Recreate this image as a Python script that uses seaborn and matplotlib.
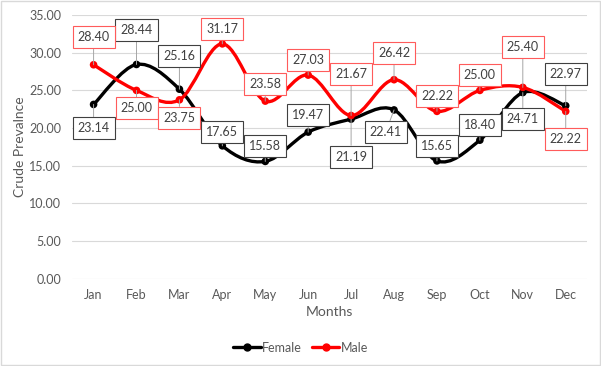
import numpy as np
import pandas as pd
import seaborn as sns
import matplotlib.pyplot as plt
from matplotlib.path import Path
from matplotlib.patches import PathPatch, Rectangle
from matplotlib.lines import Line2D

months = ["Jan", "Feb", "Mar", "Apr", "May", "Jun", "Jul", "Aug", "Sep", "Oct", "Nov", "Dec"]
female = [23.14, 28.44, 25.16, 17.65, 15.58, 19.47, 21.19, 22.41, 15.65, 18.40, 24.71, 22.97]
male = [28.40, 25.00, 23.75, 31.17, 23.58, 27.03, 21.67, 26.42, 22.22, 25.00, 25.40, 22.22]

# label offsets (points) for the data labels
off_f = [(0, -17), (0, 25), (0, 24), (0, 10), (0, 11), (0, 12), (0, -27), (-6, -16), (0, 11), (0, 11), (0, -19), (0, 23)]
off_m = [(0, 20), (0, -13), (0, -13), (0, 11), (0, 12), (0, 11), (0, 30), (0, 19), (0, 11), (0, 11), (0, 29), (0, -20)]

df = pd.DataFrame({"Month": months * 2, "Value": female + male,
                   "Sex": ["Female"] * 12 + ["Male"] * 12})

sns.set_style("white")
plt.rcParams["font.family"] = ["Lato", "DejaVu Sans"]

fig = plt.figure(figsize=(6.01, 3.66), dpi=100)
ax = fig.add_axes([0.12, 0.238, 0.857, 0.721])
fig.patches.append(Rectangle((0.002, 0.003), 0.996, 0.994, transform=fig.transFigure,
                             fill=False, edgecolor="#d9d9d9", lw=1))


def smooth_path(x, y):
    pts = np.column_stack([x, y]).astype(float)
    n = len(pts)
    verts = [pts[0]]
    codes = [Path.MOVETO]
    for i in range(n - 1):
        p0 = pts[max(i - 1, 0)]
        p1 = pts[i]
        p2 = pts[i + 1]
        p3 = pts[min(i + 2, n - 1)]
        c1 = p1 + (p2 - p0) / 6.0
        c2 = p2 - (p3 - p1) / 6.0
        verts += [c1, c2, p2]
        codes += [Path.CURVE4] * 3
    return Path(verts, codes)


colors = {"Female": "black", "Male": "#ff0000"}
edge = {"Female": "#404040", "Male": "#ff5b5b"}
xs = np.arange(len(months))
for sex, vals in [("Female", female), ("Male", male)]:
    ax.add_patch(PathPatch(smooth_path(xs, vals), fill=False, edgecolor=colors[sex],
                           lw=2.4, zorder=3, capstyle="round"))

sns.scatterplot(data=df, x="Month", y="Value", hue="Sex", palette=colors, s=30,
                edgecolor="none", legend=False, ax=ax, zorder=4)

for sex, vals, offs in [("Female", female, off_f), ("Male", male, off_m)]:
    for i, v in enumerate(vals):
        ax.annotate(f"{v:.2f}", (i, v), xytext=offs[i], textcoords="offset points",
                    ha="center", va="center", fontsize=9, color="#404040", zorder=5,
                    bbox=dict(boxstyle="square,pad=0.4", fc="white", ec=edge[sex], lw=0.8),
                    arrowprops=dict(arrowstyle="-", color="#a6a6a6", lw=0.7,
                                    shrinkA=0, shrinkB=0))

ax.set_xlim(-0.5, 11.5)
ax.set_ylim(0, 35)
ax.set_yticks(np.arange(0, 36, 5))
ax.set_yticklabels([f"{t:.2f}" for t in np.arange(0, 36, 5)])
ax.grid(axis="y", color="#d9d9d9", lw=0.8)
ax.set_axisbelow(True)
for s in ax.spines.values():
    s.set_visible(False)
ax.tick_params(axis="both", length=0, labelsize=9, labelcolor="#595959", pad=7)
ax.tick_params(axis="y", pad=8)
ax.set_xlabel("Months", fontsize=10, color="#595959", labelpad=4)
ax.set_ylabel("Crude Prevalnce", fontsize=10, color="#595959", labelpad=2)

handles = [Line2D([0], [0], color=colors[k], lw=2.4, marker="o", markersize=5) for k in ["Female", "Male"]]
fig.legend(handles, ["Female", "Male"], loc="center", bbox_to_anchor=(0.5, 0.05), ncol=2,
           frameon=False, fontsize=9, labelcolor="#595959", handlelength=2.2,
           handletextpad=0.1, columnspacing=0.8)

fig.savefig("out.png", dpi=100)
